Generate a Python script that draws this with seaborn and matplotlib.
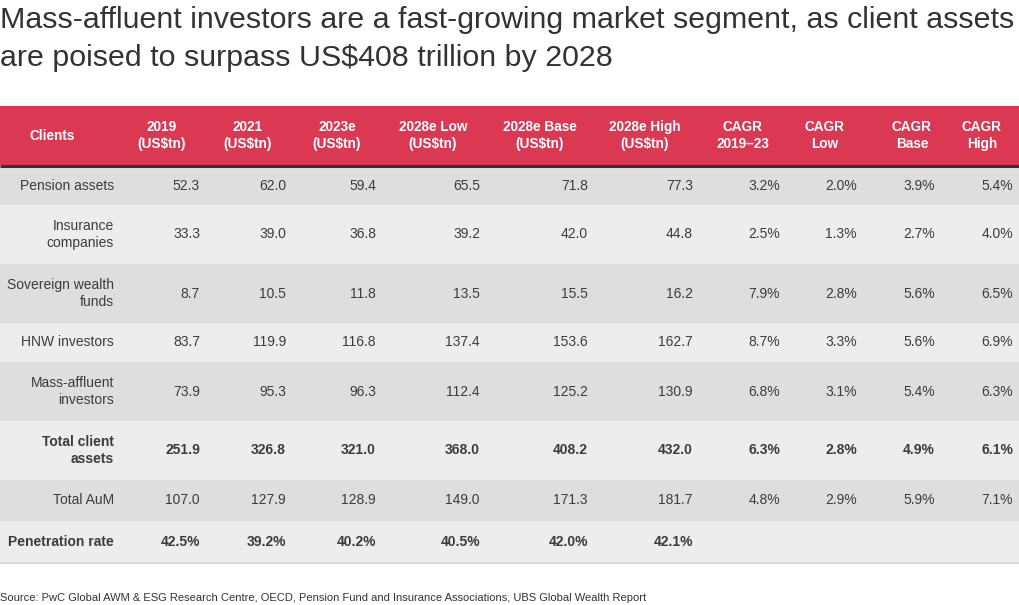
import numpy as np
import seaborn as sns
import matplotlib.pyplot as plt
from matplotlib.patches import Rectangle

# table data
columns = ["Clients", "2019\n(US$tn)", "2021\n(US$tn)", "2023e\n(US$tn)", "2028e Low\n(US$tn)",
           "2028e Base\n(US$tn)", "2028e High\n(US$tn)", "CAGR\n2019–23", "CAGR\nLow", "CAGR\nBase", "CAGR\nHigh"]
clients = ["Pension assets", "Insurance\ncompanies", "Sovereign wealth\nfunds", "HNW investors",
           "Mass-affluent\ninvestors", "Total client\nassets", "Total AuM", "Penetration rate"]
pension = ["52.3", "62.0", "59.4", "65.5", "71.8", "77.3", "3.2%", "2.0%", "3.9%", "5.4%"]
insurance = ["33.3", "39.0", "36.8", "39.2", "42.0", "44.8", "2.5%", "1.3%", "2.7%", "4.0%"]
sovereign = ["8.7", "10.5", "11.8", "13.5", "15.5", "16.2", "7.9%", "2.8%", "5.6%", "6.5%"]
hnw = ["83.7", "119.9", "116.8", "137.4", "153.6", "162.7", "8.7%", "3.3%", "5.6%", "6.9%"]
mass_affluent = ["73.9", "95.3", "96.3", "112.4", "125.2", "130.9", "6.8%", "3.1%", "5.4%", "6.3%"]
total_client = ["251.9", "326.8", "321.0", "368.0", "408.2", "432.0", "6.3%", "2.8%", "4.9%", "6.1%"]
total_aum = ["107.0", "127.9", "128.9", "149.0", "171.3", "181.7", "4.8%", "2.9%", "5.9%", "7.1%"]
penetration = ["42.5%", "39.2%", "40.2%", "40.5%", "42.0%", "42.1%", "", "", "", ""]
bold_rows = [False, False, False, False, False, True, False, True]

rows = [pension, insurance, sovereign, hnw, mass_affluent, total_client, total_aum, penetration]

# layout (pixels)
row_tops = [166, 205, 264, 323, 362, 421, 480, 521, 562]
header_centers = [52, 162, 248, 337, 433, 540, 645, 743, 825, 912, 982]
value_rights = [114, 200, 286, 376, 480, 588, 693, 780, 857, 935, 1013]

RED = "#da3853"
DARK = "#dedede"
LIGHT = "#ededed"
TEXT = "#3c3c3c"

sns.set_theme(style="white")
plt.rcParams["font.family"] = ["Liberation Sans", "DejaVu Sans"]

fig = plt.figure(figsize=(10.2, 6.05), dpi=100)
ax = fig.add_axes([0, 0, 1, 1])
ax.set_xlim(0, 1020)
ax.set_ylim(605, 0)
ax.axis("off")

fig.text(0.0, 1 - 20 / 605,
         "Mass-affluent investors are a fast-growing market segment, as client assets",
         ha="left", va="center", fontsize=21.9, color="#333333")
fig.text(0.0, 1 - 58 / 605,
         "are poised to surpass US$408 trillion by 2028",
         ha="left", va="center", fontsize=21.9, color="#333333")

# header
ax.add_patch(Rectangle((0, 106), 1020, 59, color=RED, lw=0))
for name, xc in zip(columns, header_centers):
    ax.text(xc, 135.5, name, ha="center", va="center", color="white",
            fontsize=9.8, fontweight="bold", linespacing=1.35)
ax.plot([0, 1020], [165.5, 165.5], color="#333333", lw=2.2, solid_capstyle="butt")

# body
for i, (label, vals) in enumerate(zip(clients, rows)):
    top, bot = row_tops[i], row_tops[i + 1]
    ax.add_patch(Rectangle((0, top), 1020, bot - top, color=DARK if i % 2 == 0 else LIGHT, lw=0))
    yc = (top + bot) / 2
    w = "bold" if bold_rows[i] else "normal"
    ax.text(value_rights[0], yc, label, ha="right", va="center", color=TEXT,
            fontsize=10, fontweight=w, linespacing=1.35, multialignment="right")
    for v, xr in zip(vals, value_rights[1:]):
        ax.text(xr, yc, v, ha="right", va="center", color=TEXT, fontsize=10, fontweight=w)
ax.plot([0, 1020], [562.5, 562.5], color="#cfcfcf", lw=1.2)

fig.text(0.0, 1 - 598 / 605,
         "Source: PwC Global AWM & ESG Research Centre, OECD, Pension Fund and Insurance Associations, UBS Global Wealth Report",
         ha="left", va="center", fontsize=8.05, color="#333333")

fig.savefig("out.png", dpi=100)
